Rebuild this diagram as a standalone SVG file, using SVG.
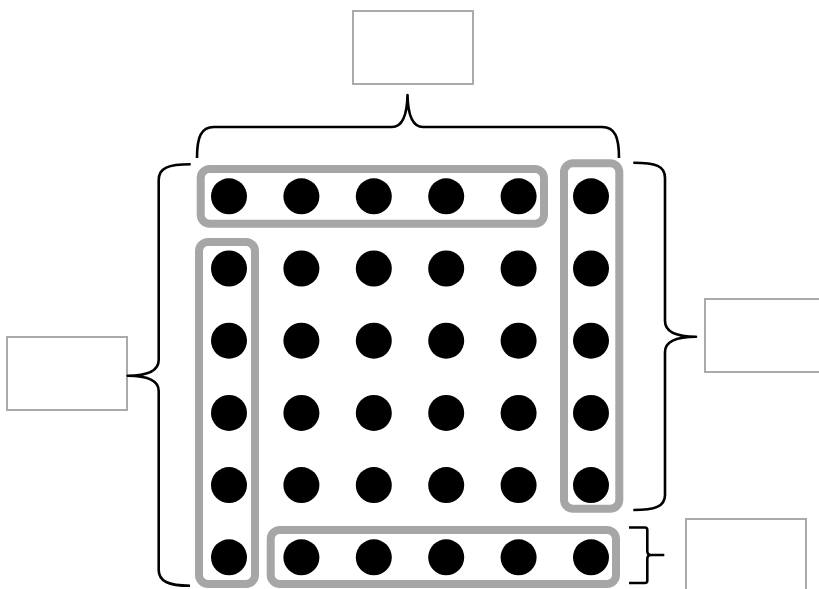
<svg xmlns="http://www.w3.org/2000/svg" width="819" height="589" viewBox="0 0 819 589">
<style>
.box{fill:#fff;stroke:#aaaaaa;stroke-width:2}
.grp{fill:none;stroke:#a6a6a6;stroke-width:8}
.dot{fill:#000}
.brace{fill:none;stroke:#000;stroke-width:2.6;stroke-linecap:butt;stroke-linejoin:round}
</style>
<rect width="819" height="589" fill="#fff"/>
<g id="label-top"><rect class="box" x="353" y="11" width="120" height="73"/></g>
<g id="label-left"><rect class="box" x="7" y="337" width="120" height="73"/></g>
<g id="label-right"><rect class="box" x="705" y="299" width="120" height="73"/></g>
<g id="label-bottom"><rect class="box" x="686" y="519" width="120" height="73"/></g>
<g id="group-top-row"><rect class="grp" x="200.7" y="169" width="343.3" height="54.7" rx="9"/></g>
<g id="group-left-col"><rect class="grp" x="199" y="242" width="56" height="342" rx="9"/></g>
<g id="group-right-col"><rect class="grp" x="564" y="163.3" width="55.3" height="345.4" rx="9"/></g>
<g id="group-bottom-row"><rect class="grp" x="270.7" y="530" width="345.3" height="54" rx="9"/></g>
<g id="dots">
<g id="row1"><circle class="dot" cx="229" cy="196.3" r="18"/><circle class="dot" cx="301.4" cy="196.3" r="18"/><circle class="dot" cx="373.8" cy="196.3" r="18"/><circle class="dot" cx="446.2" cy="196.3" r="18"/><circle class="dot" cx="518.6" cy="196.3" r="18"/><circle class="dot" cx="591" cy="196.3" r="18"/></g>
<g id="row2"><circle class="dot" cx="229" cy="268.5" r="18"/><circle class="dot" cx="301.4" cy="268.5" r="18"/><circle class="dot" cx="373.8" cy="268.5" r="18"/><circle class="dot" cx="446.2" cy="268.5" r="18"/><circle class="dot" cx="518.6" cy="268.5" r="18"/><circle class="dot" cx="591" cy="268.5" r="18"/></g>
<g id="row3"><circle class="dot" cx="229" cy="340.7" r="18"/><circle class="dot" cx="301.4" cy="340.7" r="18"/><circle class="dot" cx="373.8" cy="340.7" r="18"/><circle class="dot" cx="446.2" cy="340.7" r="18"/><circle class="dot" cx="518.6" cy="340.7" r="18"/><circle class="dot" cx="591" cy="340.7" r="18"/></g>
<g id="row4"><circle class="dot" cx="229" cy="412.9" r="18"/><circle class="dot" cx="301.4" cy="412.9" r="18"/><circle class="dot" cx="373.8" cy="412.9" r="18"/><circle class="dot" cx="446.2" cy="412.9" r="18"/><circle class="dot" cx="518.6" cy="412.9" r="18"/><circle class="dot" cx="591" cy="412.9" r="18"/></g>
<g id="row5"><circle class="dot" cx="229" cy="485.1" r="18"/><circle class="dot" cx="301.4" cy="485.1" r="18"/><circle class="dot" cx="373.8" cy="485.1" r="18"/><circle class="dot" cx="446.2" cy="485.1" r="18"/><circle class="dot" cx="518.6" cy="485.1" r="18"/><circle class="dot" cx="591" cy="485.1" r="18"/></g>
<g id="row6"><circle class="dot" cx="229" cy="557.3" r="18"/><circle class="dot" cx="301.4" cy="557.3" r="18"/><circle class="dot" cx="373.8" cy="557.3" r="18"/><circle class="dot" cx="446.2" cy="557.3" r="18"/><circle class="dot" cx="518.6" cy="557.3" r="18"/><circle class="dot" cx="591" cy="557.3" r="18"/></g>
</g>
<g id="connectors">
<path class="brace" d="M197,158 C197,137 201,127 214,127 L392,127 C402,127 407,117 407.5,95 C408,117 413,127 423,127 L602,127 C615,127 619,137 619,158"/>
<path class="brace" d="M190.7,164.3 C168,164.3 158.7,168 158.7,180 L158.7,360 C158.7,370 150,375.7 127.7,375.7 C150,375.7 158.7,381 158.7,391 L158.7,570 C158.7,581 168,585.7 190,585.7"/>
<path class="brace" d="M633.3,162.7 C656,162.7 665,166 665,178 L665,321 C665,330 673,336.7 696,336.7 C673,336.7 665,343 665,352 L665,495 C665,506 656,510 633.3,510"/>
<path class="brace" d="M629,527.5 L645,527.5 Q647.3,527.5 647.3,530 L647.3,551 Q647.3,555 651,555 L664.3,555 M651,555 Q647.3,555 647.3,559 L647.3,580.5 Q647.3,583 645,583 L629,583"/>
</g>
</svg>
